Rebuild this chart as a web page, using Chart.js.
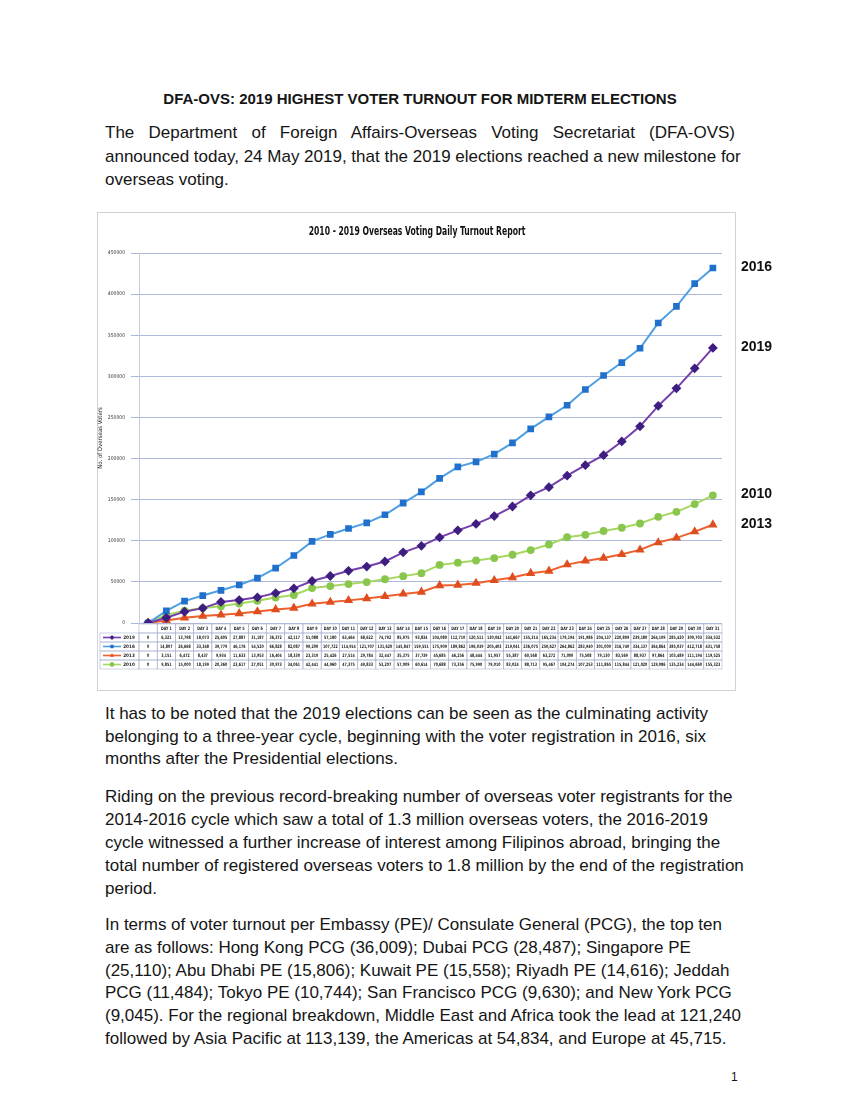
<!DOCTYPE html>
<html>
<head>
<meta charset="utf-8">
<script src="https://cdn.jsdelivr.net/npm/chart.js@4.4.1/dist/chart.umd.min.js"></script>
<style>
  body { margin: 0; background: #fff; }
  #page { position: relative; width: 850px; height: 1100px; font-family: 'Liberation Sans', Arial, sans-serif; color: #151515; }
  .t { position: absolute; white-space: nowrap; }
  .j div { text-align: justify; text-align-last: justify; }
  .j div.last { text-align-last: left; }
  #wrap { position: absolute; left: 97px; top: 210px; width: 720px; height: 484px; }
</style>
</head>
<body>
<div id="page">
  <div class="t" style="left:0;width:840px;top:90px;text-align:center;font-weight:bold;font-size:15px;">DFA-OVS: 2019 HIGHEST VOTER TURNOUT FOR MIDTERM ELECTIONS</div>

  <div class="t j" style="left:105px;width:630px;top:121px;font-size:17px;line-height:23.5px;">
    <div>The Department of Foreign Affairs-Overseas Voting Secretariat (DFA-OVS)</div>
    <div>announced today, 24 May 2019, that the 2019 elections reached a new milestone for</div>
    <div class="last">overseas voting.</div>
  </div>

  <div id="wrap"><canvas id="turnoutChart" width="720" height="484"></canvas></div>

  <div class="t" style="left:105px;top:703px;font-size:17px;line-height:22.5px;">
    <div>It has to be noted that the 2019 elections can be seen as the culminating activity</div>
    <div>belonging to a three-year cycle, beginning with the voter registration in 2016, six</div>
    <div>months after the Presidential elections.</div>
  </div>

  <div class="t" style="left:105px;top:785px;font-size:17px;line-height:23px;">
    <div>Riding on the previous record-breaking number of overseas voter registrants for the</div>
    <div>2014-2016 cycle which saw a total of 1.3 million overseas voters, the 2016-2019</div>
    <div>cycle witnessed a further increase of interest among Filipinos abroad, bringing the</div>
    <div>total number of registered overseas voters to 1.8 million by the end of the registration</div>
    <div>period.</div>
  </div>

  <div class="t" style="left:105px;top:914px;font-size:17px;line-height:22.8px;">
    <div>In terms of voter turnout per Embassy (PE)/ Consulate General (PCG), the top ten</div>
    <div>are as follows: Hong Kong PCG (36,009); Dubai PCG (28,487); Singapore PE</div>
    <div>(25,110); Abu Dhabi PE (15,806); Kuwait PE (15,558); Riyadh PE (14,616); Jeddah</div>
    <div>PCG (11,484); Tokyo PE (10,744); San Francisco PCG (9,630); and New York PCG</div>
    <div>(9,045). For the regional breakdown, Middle East and Africa took the lead at 121,240</div>
    <div>followed by Asia Pacific at 113,139, the Americas at 54,834, and Europe at 45,715.</div>
  </div>

  <div class="t" style="left:731px;top:1070px;font-size:12px;">1</div>
</div>

<script>
const chartTitle = '2010 - 2019 Overseas Voting Daily Turnout Report'
const axisTitle = 'No. of Overseas Voters'

const days = ['', 'DAY 1', 'DAY 2', 'DAY 3', 'DAY 4', 'DAY 5', 'DAY 6', 'DAY 7', 'DAY 8', 'DAY 9', 'DAY 10',
  'DAY 11', 'DAY 12', 'DAY 13', 'DAY 14', 'DAY 15', 'DAY 16', 'DAY 17', 'DAY 18', 'DAY 19', 'DAY 20',
  'DAY 21', 'DAY 22', 'DAY 23', 'DAY 24', 'DAY 25', 'DAY 26', 'DAY 27', 'DAY 28', 'DAY 29', 'DAY 30', 'DAY 31']

const turnout2019 = [0, 6321, 13798, 18073, 25605, 27887, 31187, 36372, 42117, 51088, 57180,
  63464, 68622, 74792, 85975, 93834, 104080, 112710, 120511, 130042, 141667,
  155314, 165234, 179194, 191986, 204137, 220809, 239180, 264109, 285420, 309703, 334532]
const turnout2016 = [0, 14807, 26668, 33348, 39779, 46176, 54520, 66828, 82087, 99200, 107722,
  114914, 121707, 131620, 145847, 159551, 175909, 189862, 196039, 205403, 219041,
  236075, 250627, 264862, 283940, 301000, 316740, 334137, 364864, 385037, 412718, 431758]
const turnout2013 = [0, 3151, 6472, 8437, 9934, 11633, 13953, 16404, 18330, 23310, 25426,
  27514, 29784, 32447, 35375, 37739, 45685, 46256, 48444, 51957, 55387,
  60568, 63272, 71000, 75508, 79130, 83569, 88937, 97864, 103489, 111194, 119525]
const turnout2010 = [0, 9851, 15000, 18199, 20360, 23617, 27051, 30973, 34061, 42441, 44960,
  47375, 49833, 53207, 57009, 60614, 70688, 73356, 75990, 79010, 83024,
  88713, 95467, 104274, 107253, 111865, 115844, 121020, 129086, 135234, 144660, 155323]

const yMax = 450000
const yStep = 50000

const narrow = '"Liberation Sans Narrow", "DejaVu Sans Condensed", sans-serif'

function makeSet(label, data, line, mark, shape, r){
  return {
    label: label,
    data: data,
    borderColor: line,
    backgroundColor: mark,
    pointBackgroundColor: mark,
    pointBorderColor: mark,
    pointStyle: shape,
    pointRadius: r,
    borderWidth: 2,
    tension: 0
  }
}

const datasets = [
  makeSet('2019', turnout2019, 'rgb(118,62,170)', 'rgb(62,30,128)', 'rectRot', 3.5),
  makeSet('2016', turnout2016, 'rgb(78,160,226)', 'rgb(32,112,204)', 'rect', 3.3),
  makeSet('2013', turnout2013, 'rgb(238,96,44)', 'rgb(222,78,30)', 'triangle', 3.4),
  makeSet('2010', turnout2010, 'rgb(166,216,96)', 'rgb(136,198,78)', 'circle', 2.9)
]

const tableTop = 414
const rowH = 9

// text squeezed sideways, like the condensed font of the original
function squeezeText(ctx, text, x, y, sx){
  ctx.save()
  ctx.translate(x, y)
  ctx.scale(sx, 1)
  ctx.fillText(text, 0, 0)
  ctx.restore()
}

const docPlugin = {
  id: 'doc',
  beforeDraw(chart){
    const ctx = chart.ctx
    ctx.save()
    ctx.strokeStyle = '#cfd2d8'
    ctx.lineWidth = 1
    ctx.strokeRect(0.5, 2.5, 638, 478)
    ctx.fillStyle = '#111'
    ctx.font = 'bold 11.5px ' + narrow
    ctx.textAlign = 'center'
    ctx.textBaseline = 'middle'
    squeezeText(ctx, chartTitle, 320, 22, 0.74)
    ctx.restore()
  },
  afterDraw(chart){
    const ctx = chart.ctx
    const xs = chart.scales.x
    const ys = chart.scales.y
    const w = xs.getPixelForValue(1) - xs.getPixelForValue(0)
    const left = chart.chartArea.left
    const grid = '#a9b4cc'
    ctx.save()
    ctx.strokeStyle = grid
    ctx.lineWidth = 0.6
    ctx.textAlign = 'center'
    ctx.textBaseline = 'middle'
    // header row with categories
    ctx.font = 'bold 4.6px ' + narrow
    ctx.fillStyle = '#1a1a1a'
    days.forEach((d, i) => {
      const cx = xs.getPixelForValue(i)
      ctx.strokeRect(cx - w / 2, tableTop, w, rowH)
      squeezeText(ctx, d, cx, tableTop + rowH / 2, 0.8)
    })
    // value rows
    chart.data.datasets.forEach((ds, r) => {
      const y0 = tableTop + rowH * (r + 1)
      const my = y0 + rowH / 2
      ctx.strokeStyle = grid
      ctx.lineWidth = 0.6
      ctx.strokeRect(3, y0, left - 3, rowH)
      ctx.strokeStyle = ds.borderColor
      ctx.lineWidth = 1.6
      ctx.beginPath(); ctx.moveTo(6, my); ctx.lineTo(24, my); ctx.stroke()
      ctx.fillStyle = ds.pointBackgroundColor
      Chart.helpers.drawPoint(ctx, { pointStyle: ds.pointStyle, radius: 2.4, borderWidth: 0 }, 15, my)
      ctx.fillStyle = '#1a1a1a'
      ctx.font = 'bold 4.6px ' + narrow
      ctx.fillText(ds.label, 32, my)
      ctx.strokeStyle = grid
      ctx.lineWidth = 0.6
      ds.data.forEach((v, i) => {
        const cx = xs.getPixelForValue(i)
        ctx.strokeRect(cx - w / 2, y0, w, rowH)
        squeezeText(ctx, v.toLocaleString('en-US'), cx, my, 0.78)
      })
    })
    // labels beside the box, at each series' final value
    ctx.font = 'bold 14px "Liberation Sans", Arial, sans-serif'
    ctx.textAlign = 'left'
    ctx.fillStyle = '#111'
    chart.data.datasets.forEach(ds => {
      const last = ds.data[ds.data.length - 1]
      ctx.fillText(ds.label, 644, ys.getPixelForValue(last) - 1)
    })
    ctx.restore()
  }
}

const ctx = document.getElementById('turnoutChart').getContext('2d')
const chart = new Chart(ctx, {
  type: 'line',
  data: { labels: days, datasets: datasets },
  plugins: [docPlugin],
  options: {
    responsive: false,
    animation: false,
    devicePixelRatio: 1,
    layout: { padding: { left: 0, right: 95, top: 43, bottom: 71 } },
    plugins: { legend: { display: false }, tooltip: { enabled: false }, title: { display: false } },
    scales: {
      x: { type: 'category', display: false, offset: true },
      y: {
        min: 0,
        max: yMax,
        afterFit: s => { s.width = 42 },
        ticks: { stepSize: yStep, font: { size: 5, family: narrow }, color: '#333', padding: 6, callback: v => String(v) },
        grid: { color: 'rgba(160,172,214,0.85)', lineWidth: 1, tickLength: 8 },
        border: { color: '#c8ccd6' },
        title: { display: true, text: axisTitle, font: { size: 6, family: narrow }, color: '#222', padding: 0 }
      }
    }
  }
})
</script>
</body>
</html>
